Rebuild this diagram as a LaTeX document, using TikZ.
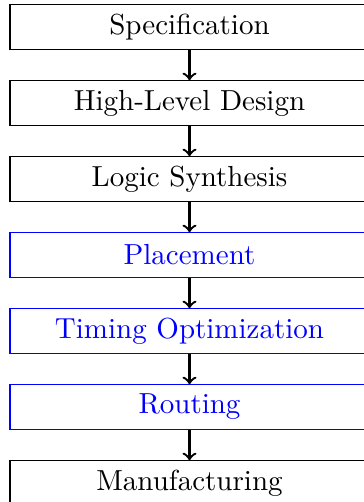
\documentclass[tikz,border=0pt]{standalone}
\begin{document}
\begin{tikzpicture}[x=0.3448pt,y=-0.3448pt,
  stage/.style={draw, rectangle, minimum width=123.8pt, minimum height=15.3pt, inner sep=0pt},
  opt/.style={stage, draw=blue, text=blue},
  flow/.style={->, thick}]
\useasboundingbox (0,0) rectangle (363,502);
\node[stage] (s1) at (189.5,27) {Specification};
\node[stage] (s2) at (189.5,103) {High-Level Design};
\node[stage] (s3) at (189.5,179) {Logic Synthesis};
\node[opt] (s4) at (189.5,255) {Placement};
\node[opt] (s5) at (189.5,331) {Timing Optimization};
\node[opt] (s6) at (189.5,407) {Routing};
\node[stage] (s7) at (189.5,483) {Manufacturing};
\foreach \a/\b in {s1/s2,s2/s3,s3/s4,s4/s5,s5/s6,s6/s7}
  \draw[flow] (\a) -- (\b);
\end{tikzpicture}
\end{document}
